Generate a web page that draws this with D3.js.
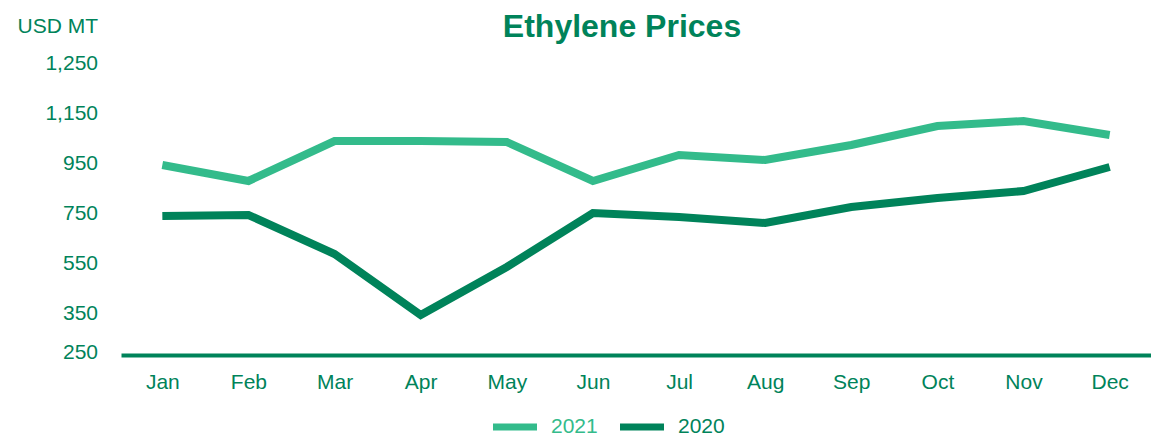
<!DOCTYPE html>
<html>
<head>
<meta charset="utf-8">
<script src="https://cdn.jsdelivr.net/npm/d3@7"></script>
<style>
  body { margin: 0; background: #fff; }
  svg text { font-family: "Liberation Sans", Arial, Helvetica, sans-serif; }
</style>
</head>
<body>
<svg id="chart" width="1151" height="438"></svg>
<script>

// === Data === //

var months = ['Jan', 'Feb', 'Mar', 'Apr', 'May', 'Jun', 'Jul', 'Aug', 'Sep', 'Oct', 'Nov', 'Dec'];

var prices2021 = [942, 878, 1038, 1038, 1034, 878, 982, 962, 1022, 1098, 1118, 1062];
var prices2020 = [738, 742, 586, 342, 534, 750, 734, 710, 774, 810, 838, 934];

// the printed tick labels do not follow one linear step, so keep where they sit and what they say apart
var yTickValues = [1350, 1150, 950, 750, 550, 350, 194];
var yTickLabels = ['1,250', '1,150', '950', '750', '550', '350', '250'];
var axisMin = 182;

var seriesNames = ['2021', '2020'];


// === Globals === //

var width = 1151, height = 438;
var darkGreen = '#00835a';
var lightGreen = '#33bb8b';
var colour = { '2021': lightGreen, '2020': darkGreen };

var svg = d3.select('#chart');

var x = d3.scalePoint()
	.domain(months)
	.range([121, 1151])
	.padding(0.48);

var y = d3.scaleLinear()
	.domain([350, 1150])
	.range([313, 113]);


// === Title === //

svg.append('text')
	.attr('x', 622)
	.attr('y', 37)
	.attr('text-anchor', 'middle')
	.style('font-size', '32px')
	.style('font-weight', 'bold')
	.style('fill', darkGreen)
	.text('Ethylene Prices');

svg.append('text')
	.attr('x', 98)
	.attr('y', 33)
	.attr('text-anchor', 'end')
	.style('font-size', '21px')
	.style('fill', darkGreen)
	.text('USD MT');


// === Axes === //

var yAxis = svg.append('g')
	.attr('transform', 'translate(98,0)')
	.call(d3.axisLeft(y)
		.tickValues(yTickValues)
		.tickFormat(function(d, i) { return yTickLabels[i]; })
		.tickSize(0)
		.tickPadding(0));

yAxis.select('.domain').remove();
yAxis.selectAll('text')
	.style('font-size', '21px')
	.style('fill', darkGreen);

var xAxis = svg.append('g')
	.attr('transform', 'translate(0,' + y(axisMin) + ')')
	.call(d3.axisBottom(x).tickSize(0).tickSizeOuter(0).tickPadding(19));

xAxis.select('.domain')
	.attr('stroke', darkGreen)
	.attr('stroke-width', 4);

xAxis.selectAll('text')
	.style('font-size', '21px')
	.style('fill', darkGreen);


// === Lines === //

var line = d3.line()
	.x(function(d, i) { return x(months[i]); })
	.y(function(d) { return y(d); });

var series = [
	{ name: '2021', values: prices2021 },
	{ name: '2020', values: prices2020 }
];

svg.selectAll('path.series')
	.data(series)
	.enter()
	.append('path')
	.attr('class', 'series')
	.attr('d', function(d) { return line(d.values); })
	.attr('fill', 'none')
	.attr('stroke', function(d) { return colour[d.name]; })
	.attr('stroke-width', 8)
	.attr('stroke-linejoin', 'miter');


// === Legend === //

var legendX = [493, 620];

var legend = svg.selectAll('g.legend')
	.data(seriesNames)
	.enter()
	.append('g')
	.attr('class', 'legend')
	.attr('transform', function(d, i) { return 'translate(' + legendX[i] + ',427)'; });

legend.append('line')
	.attr('x1', 0)
	.attr('x2', 44)
	.attr('stroke', function(d) { return colour[d]; })
	.attr('stroke-width', 7);

legend.append('text')
	.attr('x', 58)
	.attr('y', 6)
	.style('font-size', '21px')
	.style('fill', function(d) { return colour[d]; })
	.text(function(d) { return d; });

</script>
</body>
</html>
